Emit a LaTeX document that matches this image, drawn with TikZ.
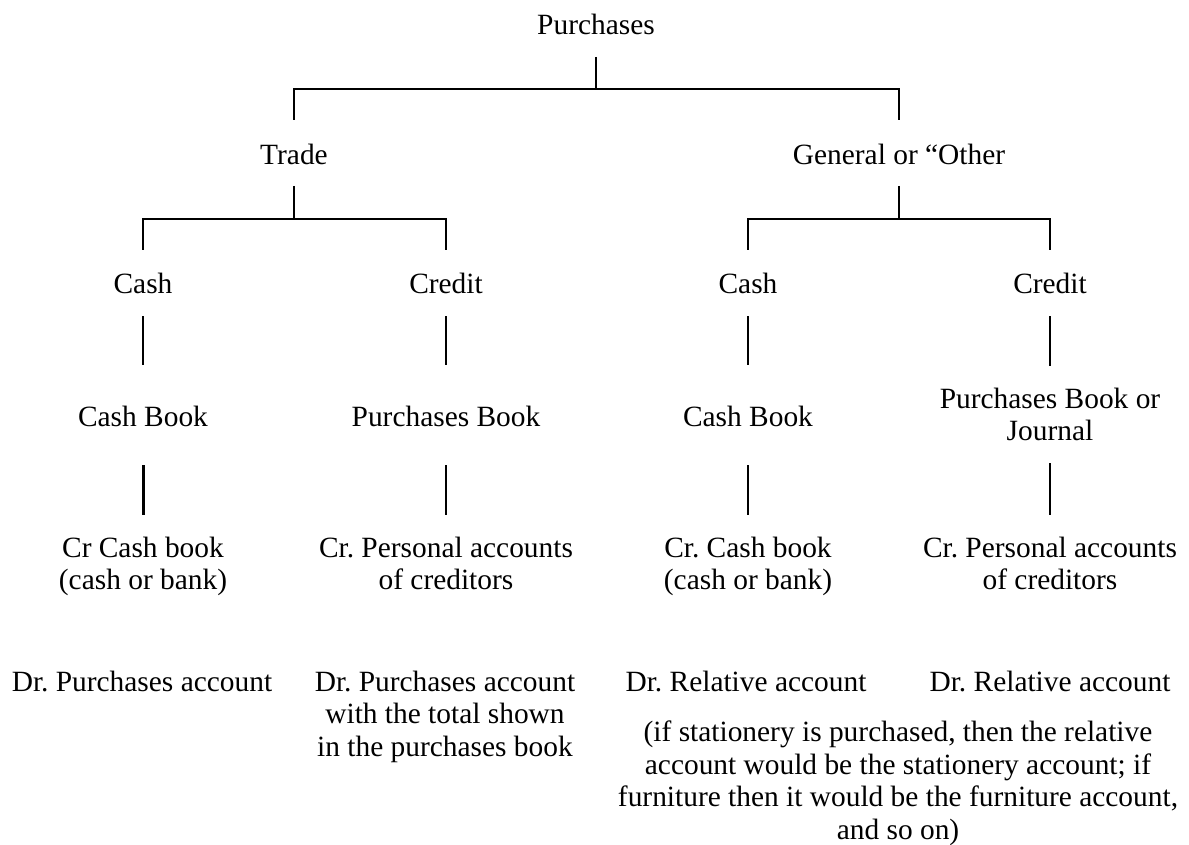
\documentclass[tikz,border=0pt]{standalone}
\usepackage{fontspec}
\setmainfont{Liberation Serif}
\frenchspacing
\begin{document}
\begin{tikzpicture}[x=1pt,y=-1pt,
  lbl/.style={font=\fontsize{29.4}{32.5}\selectfont, inner sep=0pt, outer sep=0pt, align=center},
  one/.style={lbl, anchor=base, text height=20pt, text depth=6pt},
  multi/.style={lbl, anchor=north},
  link/.style={line width=2pt},
  heavy/.style={line width=3pt}]
\useasboundingbox (0,0) rectangle (1189,845);

% level 0 and 1
\node[one] (purch) at (596,35) {Purchases};
\node[one] (trade) at (294,165) {Trade};
\node[one] (gen)   at (899,165) {General or “Other};

% level 2: cash or credit
\node[one] (cashA) at (143,293)  {Cash};
\node[one] (credA) at (446,293)  {Credit};
\node[one] (cashB) at (748,293)  {Cash};
\node[one] (credB) at (1050,293) {Credit};

% level 3: books of original entry
\node[one]   (cbA) at (143,426) {Cash Book};
\node[one]   (pbA) at (446,426) {Purchases Book};
\node[one]   (cbB) at (748,426) {Cash Book};
\node[multi] (pbB) at (1050,388) {Purchases Book or\\Journal};

% level 4: credit entries
\node[multi] (crA) at (143,537)  {Cr Cash book\\(cash or bank)};
\node[multi] (crB) at (446,537)  {Cr. Personal accounts\\of creditors};
\node[multi] (crC) at (748,537)  {Cr. Cash book\\(cash or bank)};
\node[multi] (crD) at (1050,537) {Cr. Personal accounts\\of creditors};

% level 5: debit entries
\node[one]   (drA) at (142,691) {Dr. Purchases account};
\node[multi] (drB) at (445,671) {Dr. Purchases account\\with the total shown\\in the purchases book};
\node[one]   (drC) at (746,691) {Dr. Relative account};
\node[one]   (drD) at (1050,691) {Dr. Relative account};
\node[multi] (note) at (898,721) {(if stationery is purchased, then the relative\\account would be the stationery account; if\\furniture then it would be the furniture account,\\and so on)};

% branch junctions
\coordinate (j0) at (596,89);
\coordinate (j1) at (294,219);
\coordinate (j2) at (899,219);

% tree connectors
\draw[link, shorten <=16pt] (purch) -- (j0);
\draw[link, shorten <=25pt, shorten >=25pt] (trade) |- (j0) -| (gen);
\draw[link, shorten <=15pt] (trade) -- (j1);
\draw[link, shorten <=15pt] (gen) -- (j2);
\draw[link, shorten <=23pt, shorten >=23pt] (cashA) |- (j1) -| (credA);
\draw[link, shorten <=23pt, shorten >=23pt] (cashB) |- (j2) -| (credB);

\draw[link, shorten <=17pt, shorten >=41pt] (cashA) -- (cbA);
\draw[link, shorten <=17pt, shorten >=41pt] (credA) -- (pbA);
\draw[link, shorten <=17pt, shorten >=41pt] (cashB) -- (cbB);
\draw[link, shorten <=17pt, shorten >=22pt] (credB) -- (pbB);

\draw[heavy, shorten <=33pt, shorten >=22pt] (cbA) -- (crA);
\draw[link, shorten <=33pt, shorten >=22pt] (pbA) -- (crB);
\draw[link, shorten <=33pt, shorten >=22pt] (cbB) -- (crC);
\draw[link, shorten <=22pt, shorten >=22pt] (pbB) -- (crD);
\end{tikzpicture}
\end{document}
